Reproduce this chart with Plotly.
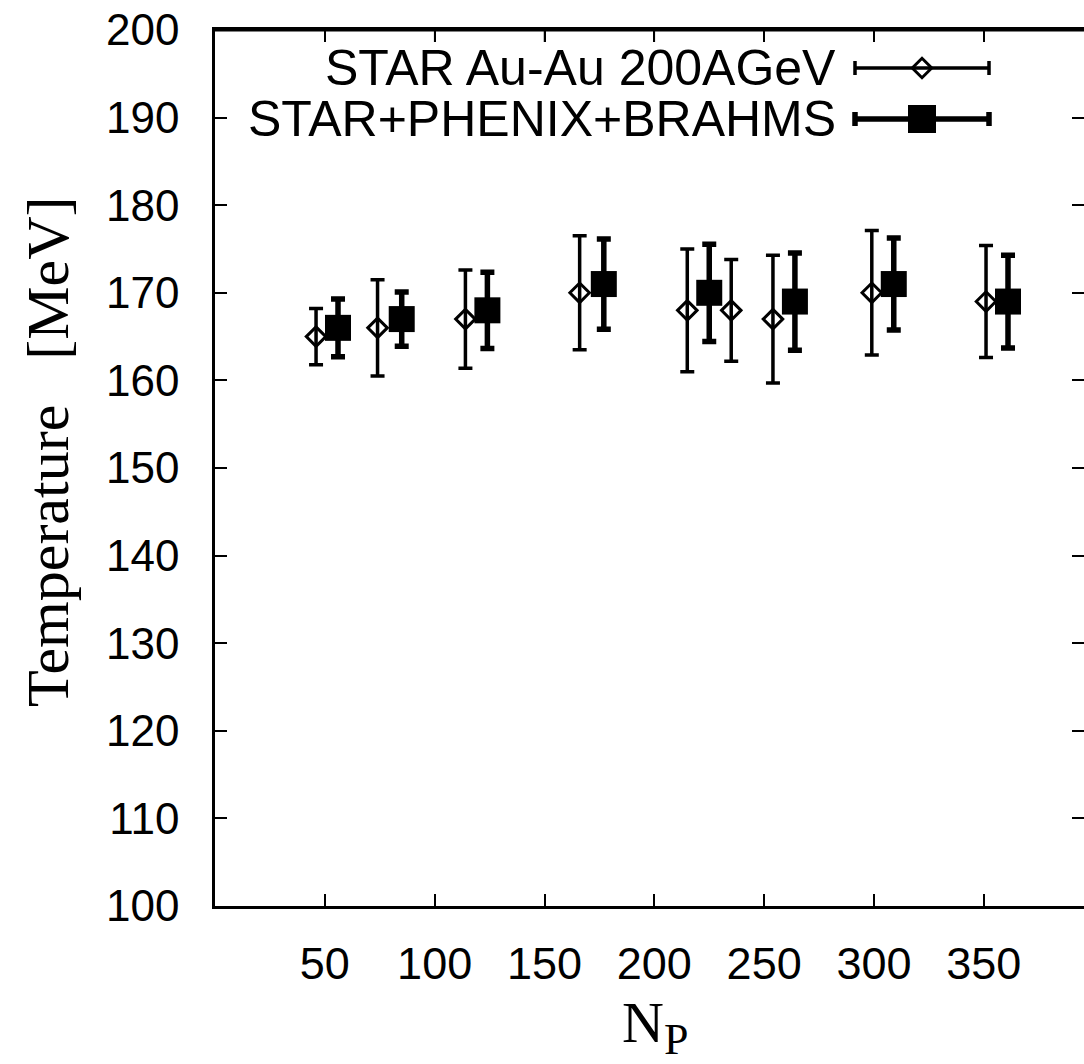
import plotly.graph_objects as go

# ---- data ----
star_np = [46, 74, 114, 166, 215, 235, 254, 299, 351]
star_t = [165, 166, 167, 170, 168, 168, 167, 170, 169]
star_err = [3.2, 5.5, 5.6, 6.5, 7.0, 5.8, 7.3, 7.1, 6.4]

comb_np = [56, 85, 124, 177, 225, 264, 309, 361]
comb_t = [166, 167, 168, 171, 170, 169, 171, 169]
comb_err = [3.3, 3.1, 4.35, 5.15, 5.55, 5.55, 5.25, 5.3]

legend_labels = ["STAR Au-Au 200AGeV", "STAR+PHENIX+BRAHMS"]
x_ticks = [50, 100, 150, 200, 250, 300, 350]
y_ticks = [100, 110, 120, 130, 140, 150, 160, 170, 180, 190, 200]

X_RANGE = [0, 395.6]
Y_RANGE = [100, 200]

W, H = 1084, 1064
# plot area in page pixels: left 215, right 1084, top 30, bottom 906
ML, MR, MT, MB = 215, 0, 30, 1064 - 906
PW, PH = W - ML - MR, H - MT - MB
TICKLEN = 12

def px_x(p):
    return (p - ML) / PW

def px_y(p):
    return (MT + PH - p) / PH

def dx(p):  # page pixel -> x data (legend sample only)
    return X_RANGE[0] + px_x(p) * (X_RANGE[1] - X_RANGE[0])

def dy(p):
    return Y_RANGE[0] + px_y(p) * (Y_RANGE[1] - Y_RANGE[0])

fig = go.Figure()

fig.add_trace(go.Scatter(
    x=star_np, y=star_t, mode="markers",
    marker=dict(symbol="diamond-open", size=15, color="black", line=dict(width=3, color="black")),
    error_y=dict(type="data", array=star_err, visible=True, color="black", thickness=3.5, width=7),
    showlegend=False,
))
fig.add_trace(go.Scatter(
    x=comb_np, y=comb_t, mode="markers",
    marker=dict(symbol="square", size=26, color="black", line=dict(width=0)),
    error_y=dict(type="data", array=comb_err, visible=True, color="black", thickness=5.5, width=7),
    showlegend=False,
))

# ---- custom legend (sample on the right, text on the left) ----
leg_rows = [68, 119]
leg_cx = 922
leg_half = 67
styles = [
    dict(marker=dict(symbol="diamond-open", size=15, color="black", line=dict(width=3, color="black")), thick=3.5),
    dict(marker=dict(symbol="square", size=28, color="black", line=dict(width=0)), thick=5.5),
]
for label, row, st in zip(legend_labels, leg_rows, styles):
    fig.add_trace(go.Scatter(
        x=[dx(leg_cx)], y=[dy(row)], mode="markers", marker=st["marker"],
        error_x=dict(type="constant", value=dx(leg_cx + leg_half) - dx(leg_cx), visible=True,
                     color="black", thickness=st["thick"], width=7),
        showlegend=False, hoverinfo="skip",
    ))
    fig.add_annotation(text=label, xref="paper", yref="paper", x=px_x(838), y=px_y(row),
                       xanchor="right", yanchor="middle", showarrow=False,
                       font=dict(family="Liberation Sans, Arial, sans-serif", size=50, color="black"))

# axis titles
fig.add_annotation(text="Temperature\u00a0\u00a0\u00a0[MeV]", xref="paper", yref="paper",
                   x=px_x(48), y=px_y(452), textangle=-90, showarrow=False,
                   xanchor="center", yanchor="middle",
                   font=dict(family="Liberation Serif, Times New Roman, serif", size=60, color="black"))
fig.add_annotation(text="N<sub><span style='font-size:44px'>P</span></sub>", xref="paper", yref="paper",
                   x=px_x(655), y=px_y(988), showarrow=False,
                   xanchor="center", yanchor="top",
                   font=dict(family="Liberation Serif, Times New Roman, serif", size=58, color="black"))

# top frame line and top ticks (mirror)
fig.add_shape(type="line", xref="paper", yref="paper", x0=0, x1=1, y0=1, y1=1,
              line=dict(color="black", width=3), layer="above")
for t in x_ticks:
    fig.add_shape(type="line", xref="x", yref="paper", x0=t, x1=t, y0=1, y1=1 - TICKLEN / PH,
                  line=dict(color="black", width=1.5), layer="above")

fig.update_layout(
    width=W, height=H,
    margin=dict(l=ML, r=MR, t=MT, b=MB, pad=0, autoexpand=False),
    plot_bgcolor="white", paper_bgcolor="white",
    xaxis=dict(range=X_RANGE, tickvals=x_ticks, ticks="inside", ticklen=TICKLEN, tickwidth=1.5,
               tickcolor="black", showline=True, linewidth=2.5, linecolor="black", mirror="ticks",
               showgrid=False, zeroline=False, ticklabelstandoff=16, automargin=False,
               tickfont=dict(family="Liberation Sans, Arial, sans-serif", size=45, color="black")),
    yaxis=dict(range=Y_RANGE, tickvals=y_ticks, ticks="inside", ticklen=TICKLEN, tickwidth=1.5,
               tickcolor="black", showline=True, linewidth=2.5, linecolor="black", mirror="ticks",
               showgrid=False, zeroline=False, ticklabelstandoff=24, automargin=False,
               tickfont=dict(family="Liberation Sans, Arial, sans-serif", size=44, color="black")),
)

fig.write_html("out.html", config={"displayModeBar": False},
               post_script="document.body.style.margin='0';document.body.style.padding='0';"
                           "document.body.style.overflow='hidden';")
